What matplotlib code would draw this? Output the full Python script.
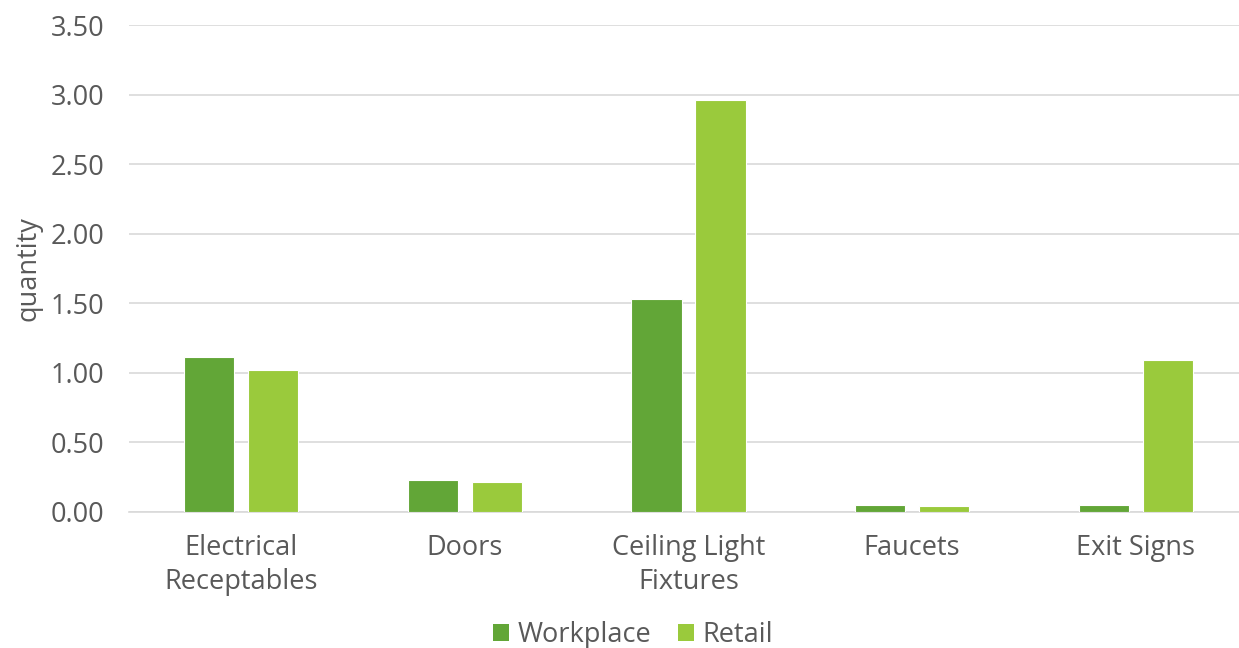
import matplotlib
matplotlib.use("Agg")
import matplotlib.pyplot as plt
import numpy as np
from matplotlib.patches import Patch

plt.rcParams['font.family'] = ['Open Sans', 'DejaVu Sans']

categories = ["Electrical\nReceptables", "Doors", "Ceiling Light\nFixtures", "Faucets", "Exit Signs"]
workplace = [1.11, 0.23, 1.53, 0.045, 0.05]
retail = [1.02, 0.21, 2.96, 0.04, 1.09]
series_names = ["Workplace", "Retail"]
colors = ["#62A637", "#9ACA3C"]
text_color = "#595959"
fs = 19.5

fig = plt.figure(figsize=(12.39, 6.48), dpi=100)
ax = fig.add_axes([0.1044, 0.2106, 0.9026, 0.7508])

x = np.arange(len(categories))
width = 0.225
offset = 0.1426
ax.bar(x - offset, workplace, width, color=colors[0], edgecolor="white", linewidth=0.8, zorder=3)
ax.bar(x + offset, retail, width, color=colors[1], edgecolor="white", linewidth=0.8, zorder=3)

ax.set_xlim(-0.5, len(categories) - 0.5)
ax.set_ylim(0, 3.5)
yt = np.arange(0, 3.51, 0.5)
ax.set_yticks(yt)
ax.set_yticklabels([f"{v:.2f}" for v in yt])
ax.set_xticks(x)
ax.set_xticklabels(categories, linespacing=1.32)

ax.grid(axis="y", color="#D9D9D9", linewidth=1.2, zorder=0)
for s in ["top", "right", "left"]:
    ax.spines[s].set_visible(False)
ax.spines["bottom"].set_color("#D9D9D9")
ax.spines["bottom"].set_linewidth(1.2)
ax.tick_params(axis="both", length=0, labelsize=fs, colors=text_color)
ax.tick_params(axis="y", pad=18)
ax.tick_params(axis="x", pad=16)

ax.set_ylabel("quantity", fontsize=fs, color=text_color, labelpad=6)

handles = [Patch(facecolor=c, label=n) for c, n in zip(colors, series_names)]
fig.legend(handles=handles, loc="center", bbox_to_anchor=(0.511, 0.02), ncol=2,
           frameon=False, fontsize=fs, labelcolor=text_color,
           handlelength=0.6, handleheight=0.6, handletextpad=0.3, columnspacing=1.0)

fig.savefig("out.png", dpi=100)
